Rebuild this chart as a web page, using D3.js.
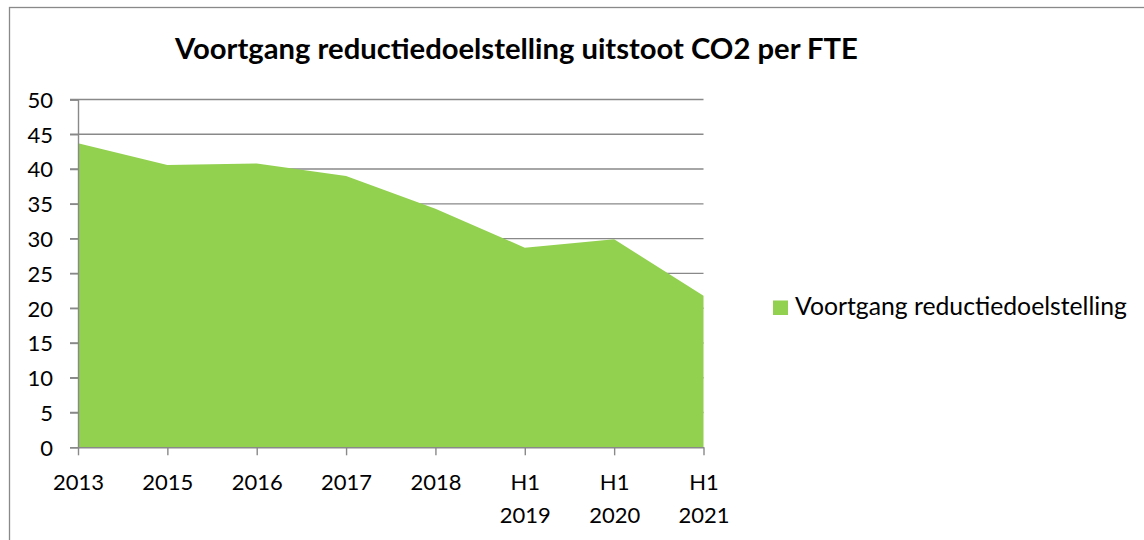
<!DOCTYPE html>
<html>
<head>
<meta charset="utf-8">
<script src="https://cdn.jsdelivr.net/npm/d3@7"></script>
<style>
  html, body { margin: 0; padding: 0; background: #fff; }
  svg { display: block; }
  text { font-family: Lato, "Open Sans", sans-serif; fill: #000; }
</style>
</head>
<body>
<svg id="chart" width="1144" height="540"></svg>
<script>
const title = "Voortgang reductiedoelstelling uitstoot CO2 per FTE";
const seriesName = "Voortgang reductiedoelstelling";
const categories = ["2013", "2015", "2016", "2017", "2018", "H1\n2019", "H1\n2020", "H1\n2021"];
const values = [43.7, 40.6, 40.8, 39.0, 34.3, 28.7, 29.9, 21.8];
const yTicks = [0, 5, 10, 15, 20, 25, 30, 35, 40, 45, 50];

const svg = d3.select("#chart");
const green = "#92D050";
const grey = "#898989";

// outer border
svg.append("rect")
  .attr("x", 9.5).attr("y", 7.5).attr("width", 1150).attr("height", 560)
  .attr("fill", "none").attr("stroke", grey).attr("stroke-width", 1.3);

const x = d3.scalePoint().domain(categories).range([78, 703.5]);
const y = d3.scaleLinear().domain([0, 50]).range([447.3, 99.5]);

// gridlines
svg.append("g").selectAll("line").data(yTicks.filter(d => d > 0)).join("line")
  .attr("x1", 70).attr("x2", 703.5)
  .attr("y1", d => y(d)).attr("y2", d => y(d))
  .attr("stroke", grey).attr("stroke-width", 1.4);

// area
const area = d3.area()
  .x((d, i) => x(categories[i]))
  .y0(y(0))
  .y1(d => y(d));
svg.append("path").datum(values).attr("d", area).attr("fill", green);

// y axis
const yAxis = svg.append("g").attr("transform", "translate(78,0)")
  .call(d3.axisLeft(y).tickValues(yTicks).tickSize(8).tickPadding(17).tickFormat(d3.format("d")));
yAxis.select(".domain").attr("stroke", grey).attr("stroke-width", 1.4);
yAxis.selectAll(".tick line").attr("stroke", grey).attr("stroke-width", 1.4);
yAxis.selectAll(".tick text").attr("font-size", 22).attr("font-family", "Lato").attr("fill", "#000")
  .attr("dy", "0.36em");

// x axis
const xAxis = svg.append("g").attr("transform", "translate(0," + y(0) + ")")
  .call(d3.axisBottom(x).tickSize(8).tickSizeOuter(0).tickFormat(""));
xAxis.select(".domain").attr("stroke", grey).attr("stroke-width", 1.4);
xAxis.selectAll(".tick line").attr("stroke", grey).attr("stroke-width", 1.4);
xAxis.selectAll(".tick").each(function(d) {
  const lines = d.split("\n");
  const t = d3.select(this).append("text")
    .attr("text-anchor", "middle").attr("font-size", 22).attr("fill", "#000");
  lines.forEach((l, i) => {
    t.append("tspan").attr("x", 0).attr("y", 42.7 + i * 33.4).text(l);
  });
});

// title
const tt = svg.append("text")
  .attr("x", 516.5).attr("y", 59.3).attr("text-anchor", "middle")
  .attr("font-weight", "bold").attr("font-size", 27).text(title);
(function fit(sel, target) {
  const w = sel.node().getComputedTextLength();
  const fs = +sel.attr("font-size");
  sel.attr("font-size", fs * target / w);
})(tt, 683);

// legend
svg.append("rect").attr("x", 773).attr("y", 300.5).attr("width", 15).attr("height", 14.5).attr("fill", green);
const lt = svg.append("text").attr("x", 795).attr("y", 315).attr("font-size", 22).text(seriesName);
(function fit(sel, target) {
  const w = sel.node().getComputedTextLength();
  const fs = +sel.attr("font-size");
  sel.attr("font-size", fs * target / w);
})(lt, 332);
</script>
</body>
</html>
